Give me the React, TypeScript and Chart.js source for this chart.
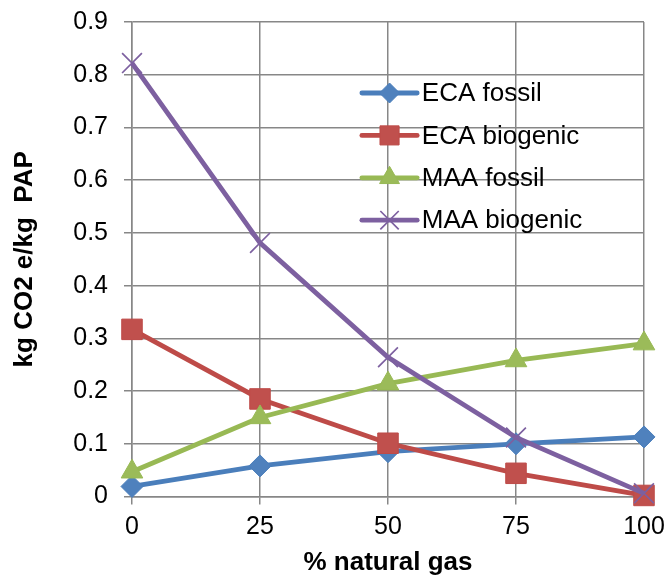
import React, { useEffect, useRef } from 'react';
import { Chart, registerables } from 'chart.js';
import { drawPoint } from 'chart.js/helpers';

Chart.register(...registerables);

const categories = ['0', '25', '50', '75', '100'];
const ecaFossil = [0.019, 0.058, 0.085, 0.1, 0.113];
const ecaBiogenic = [0.317, 0.185, 0.101, 0.044, 0.002];
const maaFossil = [0.047, 0.15, 0.214, 0.258, 0.29];
const maaBiogenic = [0.822, 0.481, 0.264, 0.112, 0.006];
const seriesNames = ['ECA fossil', 'ECA biogenic', 'MAA fossil', 'MAA biogenic'];
const yMin = 0;
const yMax = 0.9;
const yStep = 0.1;
const xTitle = '% natural gas';
const yTitle = 'kg CO2 e/kg  PAP';

const FONT = "'Liberation Sans', Arial, sans-serif";
const GRID = '#878787';

const styles = [
  { color: '#4A7EBB', fill: '#4F81BD', pointStyle: 'rectRot', radius: 11, legendRadius: 10, pbw: 1 },
  { color: '#BE4B48', fill: '#C0504D', pointStyle: 'rect', radius: 14.5, legendRadius: 13.5, pbw: 1 },
  { color: '#98B954', fill: '#9BBB59', pointStyle: 'triangle', radius: 12.5, legendRadius: 11.5, pbw: 1 },
  { color: '#7D60A0', fill: '#8064A2', pointStyle: 'crossRot', radius: 14, legendRadius: 13, pbw: 1.7 },
];

const legendPlugin = {
  id: 'insideLegend',
  afterDraw(chart: any) {
    const ctx = chart.ctx;
    const { left, top, right } = chart.chartArea;
    const w = right - left;
    const x0 = left + w * 0.449;
    const x1 = left + w * 0.557;
    const xt = left + w * 0.566;
    ctx.save();
    chart.data.datasets.forEach((ds: any, i: number) => {
      const st = styles[i];
      const y = top + 71 + i * 42.4;
      ctx.beginPath();
      ctx.strokeStyle = st.color;
      ctx.lineWidth = 4.8;
      ctx.lineCap = 'round';
      ctx.moveTo(x0, y);
      ctx.lineTo(x1, y);
      ctx.stroke();
      ctx.lineCap = 'butt';
      ctx.fillStyle = st.fill;
      ctx.strokeStyle = st.color;
      ctx.lineWidth = st.pbw;
      drawPoint(ctx, { pointStyle: st.pointStyle, radius: st.legendRadius, rotation: 0, borderWidth: st.pbw } as any, (x0 + x1) / 2, y);
      ctx.fillStyle = '#000000';
      ctx.font = `26px ${FONT}`;
      ctx.textAlign = 'left';
      ctx.textBaseline = 'middle';
      ctx.fillText(ds.label, xt, y + 1);
    });
    ctx.restore();
  },
};

export default function App() {
  const ref = useRef<HTMLCanvasElement | null>(null);

  useEffect(() => {
    document.body.style.margin = '0';
    const canvas = ref.current;
    if (!canvas) return;
    const series = [ecaFossil, ecaBiogenic, maaFossil, maaBiogenic];
    const chart = new Chart(canvas, {
      type: 'line',
      data: {
        labels: categories,
        datasets: series.map((d, i) => ({
          label: seriesNames[i],
          data: d,
          borderColor: styles[i].color,
          backgroundColor: styles[i].fill,
          pointBackgroundColor: styles[i].fill,
          pointBorderColor: styles[i].color,
          pointBorderWidth: styles[i].pbw,
          pointStyle: styles[i].pointStyle as any,
          pointRadius: styles[i].radius,
          pointHoverRadius: styles[i].radius,
          borderWidth: 4.8,
          tension: 0,
          fill: false,
          clip: false as any,
          order: 4 - i,
        })),
      },
      options: {
        responsive: false,
        animation: false,
        layout: { padding: { top: 22, right: 24, left: 0, bottom: 0 } },
        plugins: {
          legend: { display: false },
          tooltip: { enabled: false },
        },
        scales: {
          x: {
            type: 'category',
            offset: false,
            grid: { color: GRID, lineWidth: 1.5, tickLength: 8, drawTicks: true },
            border: { color: GRID, width: 1.5 },
            ticks: { color: '#000', font: { family: FONT, size: 25 }, padding: 8, maxRotation: 0, autoSkip: false },
            title: { display: true, text: xTitle, color: '#000', font: { family: FONT, size: 26, weight: 'bold' }, padding: { top: 0, bottom: 0 } },
            afterFit: (s: any) => {
              s.height = 81.5;
              s.paddingLeft = 0;
              s.paddingRight = 0;
            },
          },
          y: {
            min: yMin,
            max: yMax,
            grid: { color: GRID, lineWidth: 1.5, tickLength: 8 },
            border: { color: GRID, width: 1.5 },
            ticks: {
              stepSize: yStep,
              color: '#000',
              font: { family: FONT, size: 25 },
              padding: 16,
              callback: (v: any) => (Number(v) === 0 ? '0' : Number(v).toFixed(1)),
            },
            title: { display: true, text: yTitle, color: '#000', font: { family: FONT, size: 26, weight: 'bold' }, padding: { top: 9.4, bottom: 0 } },
            afterFit: (s: any) => {
              s.width = 132;
              s.paddingTop = 0;
              s.paddingBottom = 0;
            },
          },
        },
      },
      plugins: [legendPlugin],
    });
    return () => chart.destroy();
  }, []);

  return (
    <div style={{ width: 668, height: 578, position: 'relative', background: '#fff' }}>
      <canvas ref={ref} width={668} height={578} style={{ display: 'block' }} />
    </div>
  );
}
